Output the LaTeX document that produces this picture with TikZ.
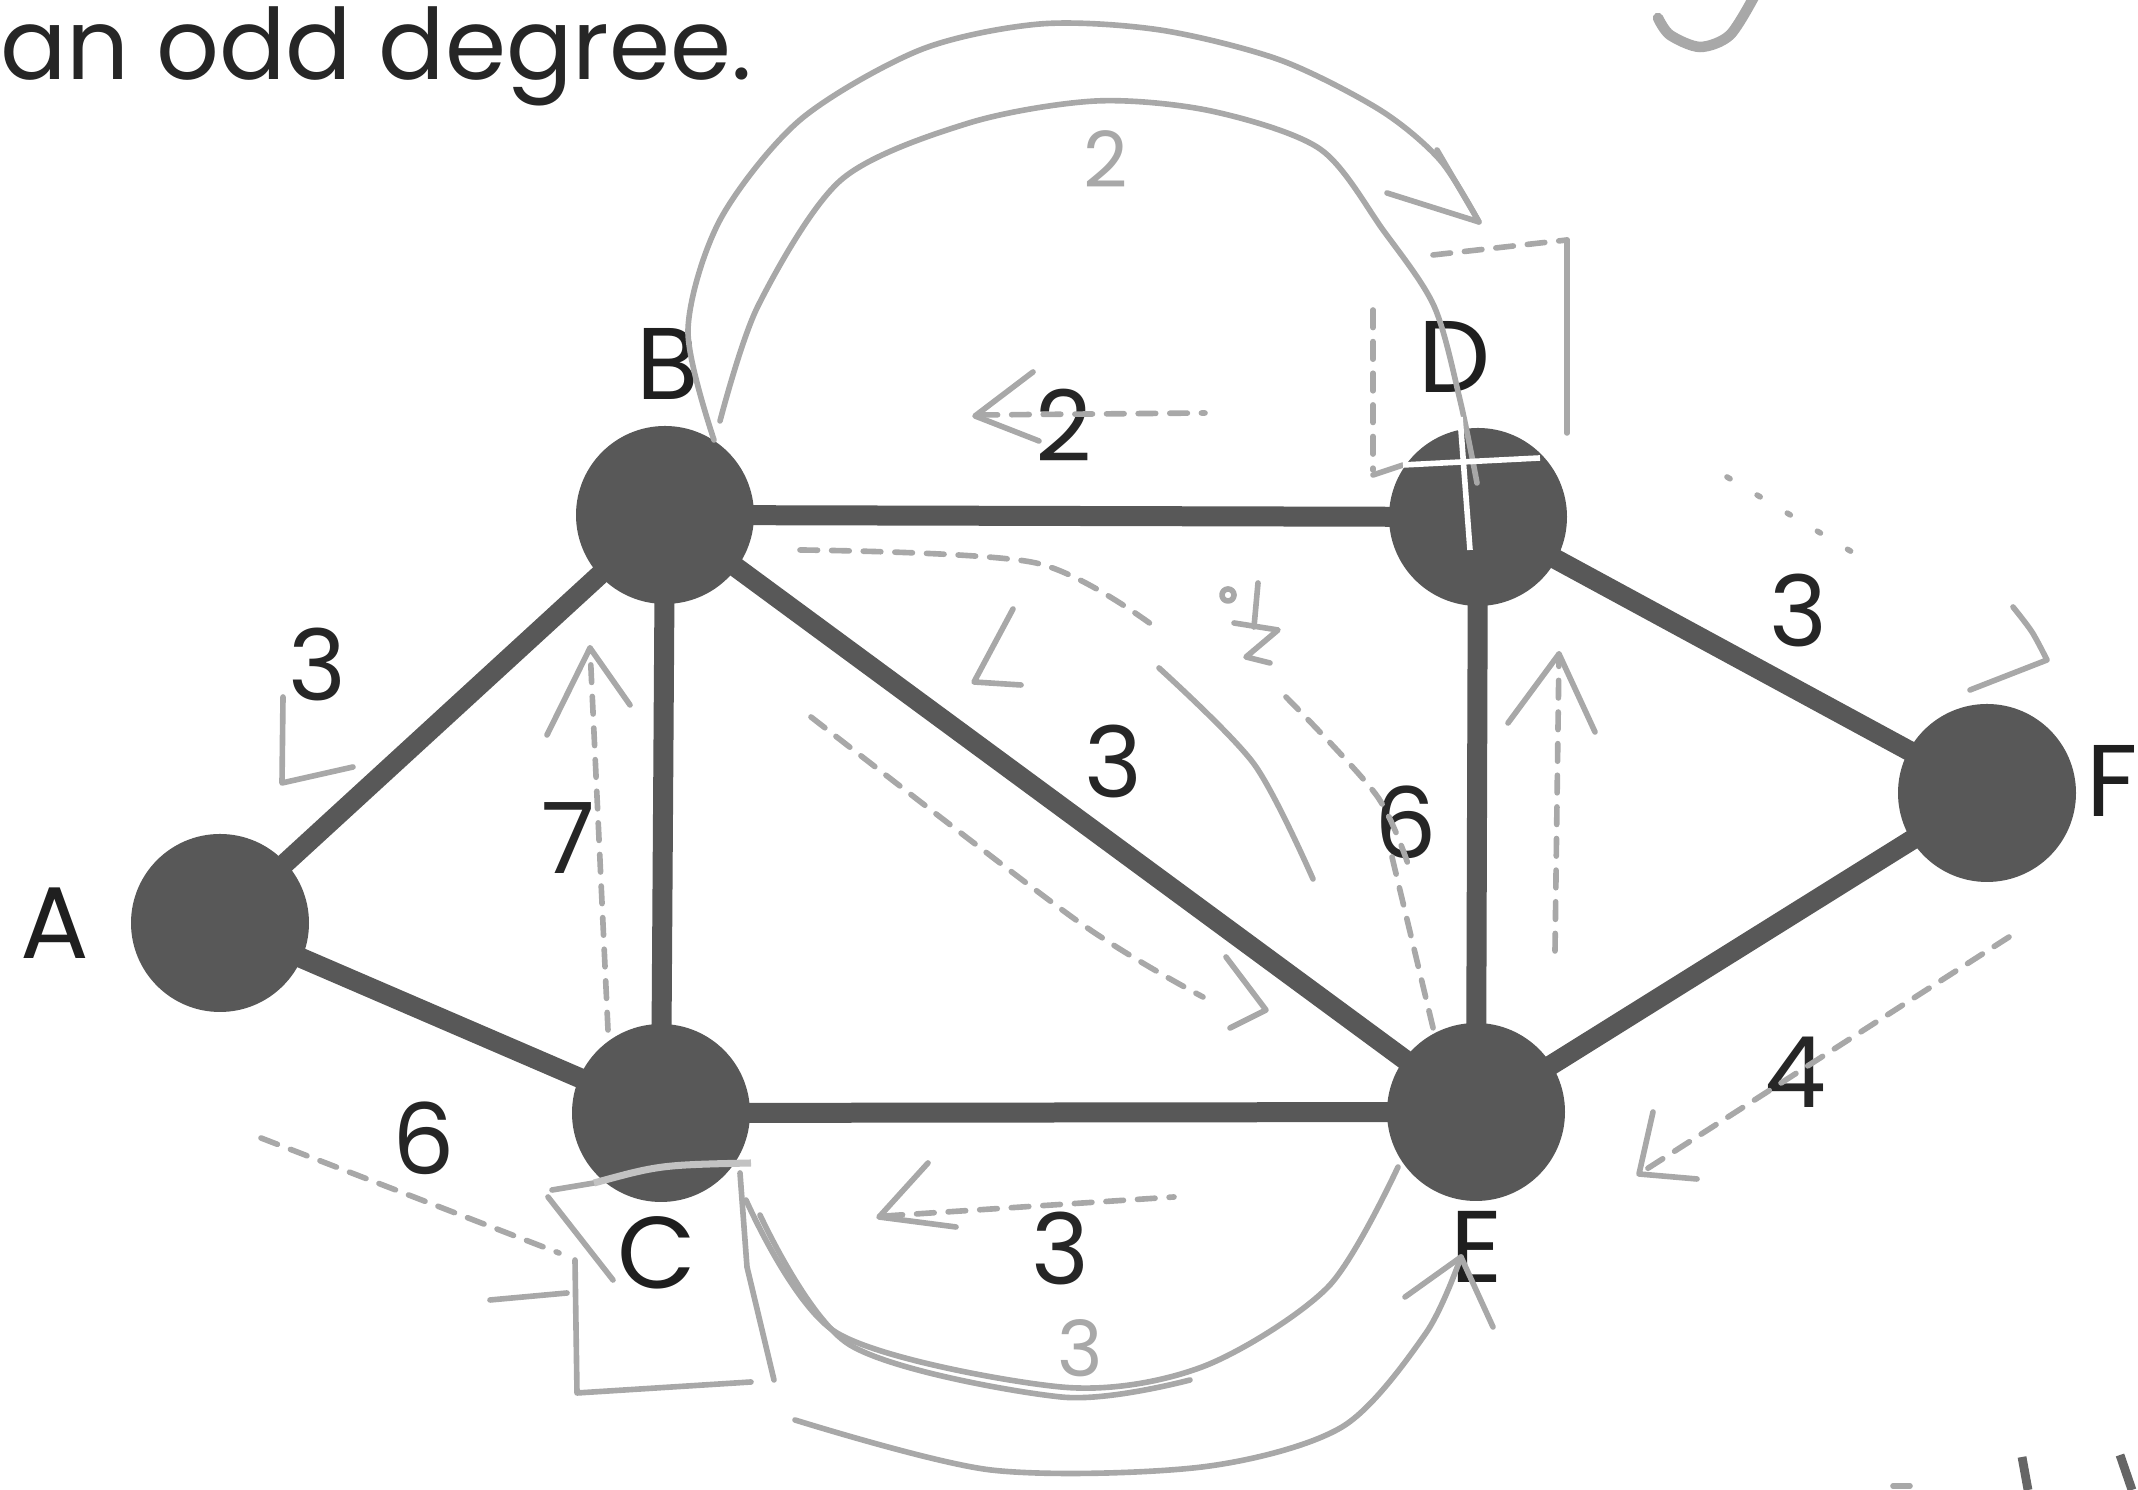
\documentclass[tikz,border=0pt]{standalone}
\usepackage{fontspec}
\setmainfont{Poppins}
\definecolor{vertexgray}{RGB}{88,88,88}
\definecolor{pencilgray}{RGB}{168,168,168}
\tikzset{
  vertex/.style={circle, fill=vertexgray, minimum size=1.78cm, inner sep=0pt},
  edge/.style={vertexgray, line width=0.2cm, shorten <=-1pt, shorten >=-1pt},
  vname/.style={text=black!88, font=\fontsize{29}{30}\selectfont},
  weight/.style={text=black!85, font=\fontsize{28}{30}\selectfont},
  pencilnum/.style={text=pencilgray, font=\fontsize{22}{24}\selectfont},
  pencilline/.style={pencilgray, line width=1.6pt, line cap=round, line join=round},
  pencildash/.style={pencilline, dash pattern=on 5pt off 4pt},
}
\begin{document}
\begin{tikzpicture}
  \useasboundingbox (0,0) rectangle (21.38,14.90);

  \node[anchor=base west, text=black!85, font=\fontsize{28}{30}\selectfont] (title) at (-0.12,14.10) {an odd degree.};

  \node[vertex] (A) at (2.20,5.67) {};
  \node[vertex] (B) at (6.65,9.75) {};
  \node[vertex] (C) at (6.61,3.77) {};
  \node[vertex] (D) at (14.78,9.73) {};
  \node[vertex] (E) at (14.76,3.78) {};
  \node[vertex] (F) at (19.87,6.97) {};

  \draw[edge] (A) -- (B);
  \draw[edge] (A) -- (C);
  \draw[edge] (B) -- (C);
  \draw[edge] (B) -- (D);
  \draw[edge] (B) -- (E);
  \draw[edge] (C) -- (E);
  \draw[edge] (D) -- (E);
  \draw[edge] (D) -- (F);
  \draw[edge] (E) -- (F);

  \node[vname] (lA) at (0.55,5.67) {A};
  \node[vname] (lB) at (6.68,11.26) {B};
  \node[vname] (lC) at (6.57,2.37) {C};
  \node[vname] (lD) at (14.55,11.33) {D};
  \node[vname] (lE) at (14.77,2.43) {E};
  \node[vname] (lF) at (21.12,7.09) {F};

  \node[weight] (wAB) at (3.17,8.25) {3};
  \node[weight] (wBC) at (5.68,6.52) {7};
  \node[weight] (wAC) at (4.24,3.52) {6};
  \node[weight] (wBD) at (10.64,10.65) {2};
  \node[weight] (wBE) at (11.13,7.28) {3};
  \node[weight] (wCE) at (10.60,2.42) {3};
  \node[weight] (wDE) at (14.06,6.68) {6};
  \node[weight] (wDF) at (17.98,8.79) {3};
  \node[weight] (wEF) at (17.95,4.18) {4};

  % pencil marks over the print
  \draw[pencilline] plot[smooth] coordinates {(7.14,10.50) (6.88,11.60) (7.20,12.70) (8.00,13.70) (9.20,14.40) (10.40,14.66) (11.60,14.60) (12.80,14.30) (13.80,13.80) (14.40,13.30) (14.79,12.68)};
  \draw[pencilline] (13.87,12.97) -- (14.79,12.68) -- (14.37,13.40);
  \draw[pencilline] plot[smooth] coordinates {(7.20,10.69) (7.58,11.84) (8.41,13.10) (9.69,13.67) (10.96,13.89) (12.11,13.79) (13.20,13.41) (13.83,12.60) (14.34,11.84) (14.60,10.90) (14.77,10.07)};
  \node[pencilnum] (p2) at (11.06,13.31) {2};
  \draw[pencilline] (10.33,11.18) -- (9.75,10.74) -- (10.39,10.49);
  \draw[pencildash] (9.80,10.75) -- (12.05,10.77);

  \draw[pencilline] (15.67,12.50) -- (15.67,10.57);
  \draw[pencildash] (14.33,12.35) -- (15.67,12.50);
  \draw[pencildash] (13.73,11.80) -- (13.73,10.20);
  \draw[pencilline] (13.73,10.15) -- (14.03,10.25);
  \draw[white, line width=1.6pt] (14.03,10.25) -- (15.40,10.32);
  \draw[white, line width=1.6pt] (14.60,10.73) -- (14.70,9.40);

  \draw[pencilline, dash pattern=on 1pt off 9pt] (17.27,10.13) -- (18.77,9.23);
  \draw[pencilline] plot[smooth] coordinates {(20.13,8.83) (20.32,8.58) (20.47,8.30)} -- (19.70,8.00);
  \draw[pencildash] (20.09,5.53) -- (16.39,3.16);
  \draw[pencilline] (16.53,3.78) -- (16.39,3.16) -- (16.97,3.11);
  \draw[pencildash] (15.55,5.39) -- (15.59,8.36);
  \draw[pencilline] (15.08,7.67) -- (15.59,8.36) -- (15.95,7.58);

  \draw[pencildash] plot[smooth] coordinates {(8.00,9.40) (10.36,9.27) (11.59,8.60)};
  \draw[pencilline] plot[smooth] coordinates {(11.59,8.22) (12.54,7.26) (13.13,6.11)};
  \draw[pencilline] (10.13,8.81) -- (9.74,8.08) -- (10.21,8.05);
  \draw[pencilline] (12.28,8.95) circle (0.06);
  \draw[pencilline] (12.58,9.07) -- (12.54,8.63);
  \draw[pencilline] (12.34,8.67) -- (12.78,8.60) -- (12.46,8.33) -- (12.70,8.27);
  \draw[pencildash] plot[smooth] coordinates {(12.86,7.93) (13.77,6.94) (14.11,6.17)};
  \draw[pencildash] (13.92,6.33) -- (14.35,4.54);
  \draw[pencildash] plot[smooth] coordinates {(8.11,7.73) (10.76,5.70) (12.03,4.93)};
  \draw[pencilline] (12.26,5.33) -- (12.66,4.80) -- (12.30,4.62);

  \draw[pencildash] (6.08,4.60) -- (5.90,8.42);
  \draw[pencilline] (5.47,7.55) -- (5.90,8.42) -- (6.30,7.85);
  \draw[pencilline] (2.83,7.93) -- (2.82,7.07) -- (3.53,7.23);
  \draw[pencildash] (2.61,3.52) -- (5.59,2.37);

  \draw[pencilline] (5.48,2.93) -- (6.13,2.10);
  \draw[pencilline] (5.52,3.00) -- (5.94,3.07);
  \draw[pencilline] (5.75,2.30) -- (5.77,0.97) -- (7.51,1.08);
  \draw[pencilline] (4.90,1.90) -- (5.67,1.97);
  \draw[pencilline] (7.40,3.17) -- (7.47,2.23) -- (7.74,1.10);
  \draw[pencilgray!70, line width=2pt] (5.94,3.07) .. controls (6.60,3.25) .. (7.51,3.27);

  \draw[pencilline] (9.28,3.27) -- (8.79,2.73) -- (9.56,2.63);
  \draw[pencildash] (8.85,2.74) -- (11.74,2.93);
  \draw[pencilline] plot[smooth] coordinates {(7.46,2.90) (8.37,1.57) (10.61,1.03) (12.02,1.23) (13.28,2.03) (13.98,3.23)};
  \draw[pencilline] plot[smooth] coordinates {(7.60,2.75) (8.50,1.45) (10.61,0.93) (11.90,1.10)};
  \node[pencilnum] (p3) at (10.80,1.42) {3};
  \draw[pencilline] plot[smooth] coordinates {(7.95,0.70) (9.91,0.20) (12.02,0.23) (13.42,0.63) (14.26,1.57) (14.61,2.33)};
  \draw[pencilline] (14.05,1.93) -- (14.61,2.33) -- (14.93,1.63);

  \draw[pencilgray, line width=3pt, line cap=round] plot[smooth] coordinates {(17.55,14.95) (17.30,14.55) (17.00,14.43) (16.70,14.55) (16.58,14.72)};
  \draw[black!60, line width=2.5pt] (20.22,0.33) -- (20.28,0.00);
  \draw[black!60, line width=2.5pt] (21.20,0.35) -- (21.32,0.00);
  \draw[pencilline] (18.93,0.04) -- (19.10,0.04);
\end{tikzpicture}
\end{document}
